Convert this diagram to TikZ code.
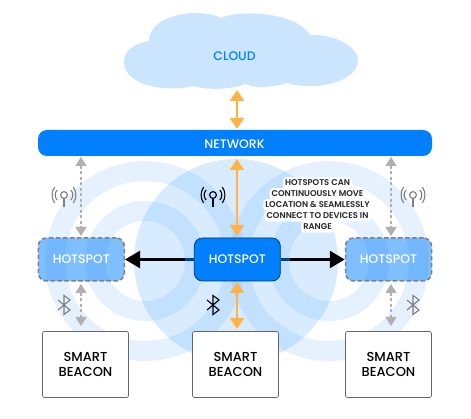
\documentclass[tikz,border=0pt]{standalone}
\usepackage{fontspec}
\setmainfont{Poppins Medium}
\newfontfamily\notefont{Poppins SemiBold}
\usetikzlibrary{arrows.meta,calc}
\definecolor{netblue}{HTML}{007FFF}
\definecolor{cloudblue}{HTML}{CCE5FF}
\definecolor{ringblue}{HTML}{007FFF}
\definecolor{orangearrow}{HTML}{FFB347}
\definecolor{greyarrow}{HTML}{B0B0B0}
\definecolor{greyicon}{HTML}{808080}
\definecolor{boxedge}{HTML}{666666}
\tikzset{
  x=1pt,y=-1pt,
  mainlab/.style={font=\fontsize{12.4}{14}\selectfont,align=center,inner sep=0pt},
  notelab/.style={font=\notefont\fontsize{8.4}{10}\selectfont,inner xsep=2pt,inner ysep=1.5pt,text=black!85,fill=white,rounded corners=3pt,text height=7pt,text depth=1.5pt},
  band/.style={fill=ringblue,fill opacity=0.10,even odd rule,draw=none},
  netbar/.style={fill=netblue,draw=none,rounded corners=9pt},
  hotmain/.style={fill=netblue,draw=black!60!netblue,line width=.7pt,rounded corners=8pt,minimum width=86pt,minimum height=43pt,inner sep=0pt,text=white,mainlab},
  hotside/.style={fill=netblue,fill opacity=.5,draw=greyicon,draw opacity=1,dash pattern=on 4.5pt off 2.5pt,line width=1.5pt,rounded corners=8pt,minimum width=86pt,minimum height=43pt,inner sep=0pt},
  beacon/.style={fill=white,draw=boxedge,line width=.7pt,rounded corners=2pt,minimum width=86pt,minimum height=66pt,inner sep=0pt,text=black,font=\fontsize{13}{15}\selectfont,align=center},
  orangelink/.style={draw=orangearrow,line width=2.2pt,{Triangle[length=11pt,width=14pt]}-{Triangle[length=11pt,width=14pt]}},
  greylink/.style={draw=greyarrow,line width=1.4pt,dash pattern=on 3pt off 2.5pt,{Triangle[length=9pt,width=11pt]}-{Triangle[length=9pt,width=11pt]}},
  blacklink/.style={draw=black,line width=2.5pt,-{Triangle[length=15pt,width=17pt]}},
  dimlink/.style={draw=netblue,draw opacity=.55,line width=2.7pt},
  iconblack/.style={draw=black,line width=1.1pt},
  icongrey/.style={draw=greyicon,line width=1.1pt},
}
\newcommand{\rings}[2]{%
  \fill[band] (#1,#2) circle (100pt) (#1,#2) circle (80pt);
  \fill[band] (#1,#2) circle (60pt) (#1,#2) circle (40pt);
}
\newcommand{\antenna}[3]{%
  \begin{scope}[shift={(#1,#2)},#3]
    \draw (0,0) circle (3.4pt);
    \draw (0,3.4) -- (0,12);
    \draw (-6.9,-5) .. controls (-9.5,-2) and (-9.5,2) .. (-6.9,5);
    \draw (6.9,-5) .. controls (9.5,-2) and (9.5,2) .. (6.9,5);
    \draw (-9.3,-8) .. controls (-12.8,-3) and (-12.8,3) .. (-9.3,8);
    \draw (9.3,-8) .. controls (12.8,-3) and (12.8,3) .. (9.3,8);
  \end{scope}}
\newcommand{\btooth}[3]{%
  \begin{scope}[shift={(#1,#2)},#3]
    \draw[line join=miter] (-6,-5) -- (6,5) -- (0,9.5) -- (0,-9.5) -- (6,-5) -- (-6,5);
  \end{scope}}
\begin{document}
\begin{tikzpicture}
\useasboundingbox (0,0) rectangle (471,419);
\fill[white] (0,0) rectangle (471,419);
% rings
\rings{145}{261}
\rings{329}{261}
\fill[ringblue,fill opacity=.15] (236,261) circle (102pt);
% cloud
\fill[cloudblue] (124,62)
  .. controls (124,50) and (134,44) .. (149,41)
  .. controls (149,22) and (175,13) .. (195,13)
  .. controls (205,13) and (215,15) .. (221,18)
  .. controls (235,12) and (255,13) .. (270,15)
  .. controls (290,18) and (305,26) .. (310,35)
  .. controls (335,34) and (358,47) .. (358,60)
  .. controls (358,76) and (335,86) .. (312,86)
  .. controls (300,86) and (293,85) .. (287,83)
  .. controls (275,87) and (255,89) .. (245,84)
  .. controls (230,90) and (205,90) .. (193,86)
  .. controls (165,93) and (124,85) .. (124,62) -- cycle;
\node[mainlab,text=netblue] (cloud) at (234.5,56) {CLOUD};
% network
\fill[netbar] (38,130) rectangle (432,156);
\node[mainlab,text=white] (net) at (234.5,144) {NETWORK};
% nodes
\node[hotside] (hl) at (81.3,259.5) {};
\node[mainlab,text=white] at (hl) {HOTSPOT};
\node[hotside] (hr) at (388.5,259.5) {};
\node[mainlab,text=white] at (hr) {HOTSPOT};
\node[beacon] (bl) at (85.5,364.5) {SMART\\BEACON};
\node[beacon] (bc) at (235.5,364.5) {SMART\\BEACON};
\node[beacon] (br) at (388.5,364.5) {SMART\\BEACON};
% connectors
\coordinate (cloudB) at (237,90);
\coordinate (netT) at (237,129);
\coordinate (netB) at (237,159);
\coordinate (hcT) at (237,236);
\coordinate (hcB) at (237,282);
\coordinate (bcT) at (237,329);
\coordinate (netLB) at (81,157);
\coordinate (hlT) at (81,236);
\coordinate (hlB) at (81,284);
\coordinate (blT) at (81,326);
\coordinate (netRB) at (391,157);
\coordinate (hrT) at (391,236);
\coordinate (hrB) at (391,284);
\coordinate (brT) at (391,326);
\draw[orangelink] (cloudB) -- (netT);
\draw[orangelink] (netB) -- (hcT);
\draw[orangelink] (hcB) -- (bcT);
\draw[greylink] (netLB) -- (hlT);
\draw[greylink] (netRB) -- (hrT);
\draw[greylink] (hlB) -- (blT);
\draw[greylink] (hrB) -- (brT);
\node[hotmain] (hc) at (237.3,259.5) {HOTSPOT};
\draw[blacklink] (hc.west) -- (hl.east);
\draw[blacklink] (hc.east) -- (hr.west);
\draw[dimlink] (hc.west) -- ++(-9,0);
\draw[dimlink] (hc.east) -- ++(9,0);
% annotation
\node[notelab] (note1) at (317.5,183) {HOTSPOTS CAN};
\node[notelab] (note2) at (317.5,194) {CONTINUOUSLY MOVE};
\node[notelab] (note3) at (317.5,205) {LOCATION \& SEAMLESSLY};
\node[notelab] (note4) at (317.5,216) {CONNECT TO DEVICES IN};
\node[notelab] (note5) at (317.5,227) {RANGE};
% icons
\antenna{64}{195}{icongrey}
\antenna{213}{195}{iconblack}
\antenna{413}{195}{icongrey}
\btooth{64}{305}{icongrey}
\btooth{213}{305}{iconblack}
\btooth{413}{305}{icongrey}
\end{tikzpicture}
\end{document}
